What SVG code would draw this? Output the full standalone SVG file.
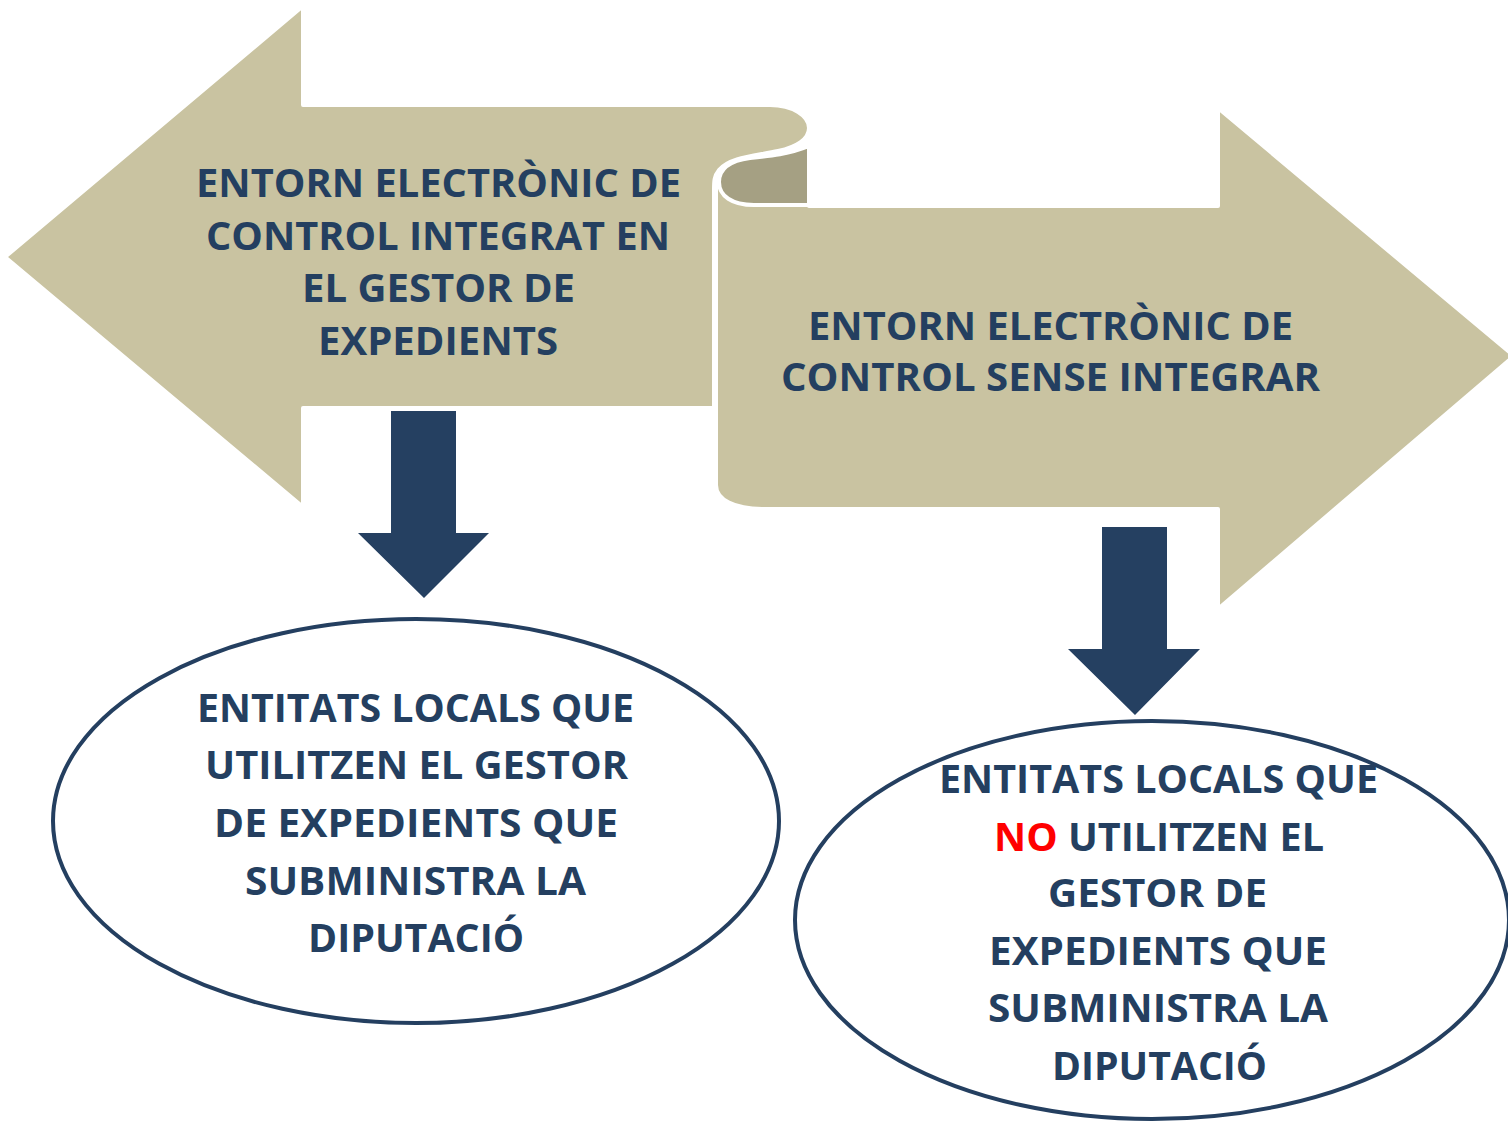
<svg xmlns="http://www.w3.org/2000/svg" width="1508" height="1121" viewBox="0 0 1508 1121">
<style>
.tan{fill:#C9C3A1;stroke:#FFFFFF;stroke-width:4;stroke-linejoin:round}
.roll{fill:#A5A083;stroke:#FFFFFF;stroke-width:4;stroke-linejoin:round}
.down{fill:#254061}
.oval{fill:#FFFFFF;stroke:#243F60;stroke-width:4}
.t{font-family:"Open Sans","Liberation Sans",sans-serif;font-weight:bold;font-size:40px;fill:#243F60;text-anchor:middle}
.red{fill:#FF0000}
</style>
<rect width="1508" height="1121" fill="#FFFFFF"/>
<g id="node-right-arrow">
<path class="tan" d="M716,176 L716,485 C716,500 735,509 762,509 L1218,509 L1218,609 L1514,356 L1218,108 L1218,206 L809,206 L809,150 Z"/>
</g>
<g id="node-roll">
<path class="roll" d="M809,146 C790,154 770,156 750,158 C728,161 719,170 719,182 C719,196 732,205 754,205 L809,205 Z"/>
</g>
<g id="node-left-arrow">
<path class="tan" d="M5,257 L303,6 L303,105 L770,105 C793,105 809,116 809,128 C809,139 797,147 778,151 C755,156 730,157 719,170 C714,176 714,182 714,190 L714,408 L303,408 L303,507 Z"/>
<text class="t"><tspan x="438.5" y="197" textLength="485" lengthAdjust="spacingAndGlyphs">ENTORN ELECTRÒNIC DE</tspan></text>
<text class="t"><tspan x="438" y="250" textLength="464" lengthAdjust="spacingAndGlyphs">CONTROL INTEGRAT EN</tspan></text>
<text class="t"><tspan x="438.5" y="302" textLength="273" lengthAdjust="spacingAndGlyphs">EL GESTOR DE</tspan></text>
<text class="t"><tspan x="438" y="355" textLength="240" lengthAdjust="spacingAndGlyphs">EXPEDIENTS</tspan></text>
</g>
<g id="node-right-label">
<text class="t"><tspan x="1050.5" y="340" textLength="485" lengthAdjust="spacingAndGlyphs">ENTORN ELECTRÒNIC DE</tspan></text>
<text class="t"><tspan x="1050.5" y="391" textLength="539" lengthAdjust="spacingAndGlyphs">CONTROL SENSE INTEGRAR</tspan></text>
</g>
<g id="connectors">
<path class="down" d="M391,411 L456,411 L456,533 L489,533 L424,598 L358,533 L391,533 Z"/>
<path class="down" d="M1102,527 L1167,527 L1167,649 L1200,649 L1135,715 L1068,649 L1102,649 Z"/>
</g>
<g id="node-left-oval">
<ellipse class="oval" cx="416" cy="821" rx="363" ry="202"/>
<text class="t"><tspan x="415.5" y="722" textLength="437" lengthAdjust="spacingAndGlyphs">ENTITATS LOCALS QUE</tspan></text>
<text class="t"><tspan x="416.5" y="779" textLength="423" lengthAdjust="spacingAndGlyphs">UTILITZEN EL GESTOR</tspan></text>
<text class="t"><tspan x="416" y="837" textLength="404" lengthAdjust="spacingAndGlyphs">DE EXPEDIENTS QUE</tspan></text>
<text class="t"><tspan x="415.5" y="895" textLength="341" lengthAdjust="spacingAndGlyphs">SUBMINISTRA LA</tspan></text>
<text class="t"><tspan x="416" y="952" textLength="216" lengthAdjust="spacingAndGlyphs">DIPUTACIÓ</tspan></text>
</g>
<g id="node-right-oval">
<ellipse class="oval" cx="1152" cy="920" rx="357" ry="199"/>
<text class="t"><tspan x="1158.5" y="793" textLength="439" lengthAdjust="spacingAndGlyphs">ENTITATS LOCALS QUE</tspan></text>
<text class="t" x="1159" y="851" textLength="330" lengthAdjust="spacingAndGlyphs"><tspan class="red">NO</tspan> UTILITZEN EL</text>
<text class="t"><tspan x="1157.5" y="907" textLength="219" lengthAdjust="spacingAndGlyphs">GESTOR DE</tspan></text>
<text class="t"><tspan x="1158" y="965" textLength="338" lengthAdjust="spacingAndGlyphs">EXPEDIENTS QUE</tspan></text>
<text class="t"><tspan x="1158" y="1022" textLength="340" lengthAdjust="spacingAndGlyphs">SUBMINISTRA LA</tspan></text>
<text class="t"><tspan x="1159.5" y="1080" textLength="215" lengthAdjust="spacingAndGlyphs">DIPUTACIÓ</tspan></text>
</g>
</svg>
